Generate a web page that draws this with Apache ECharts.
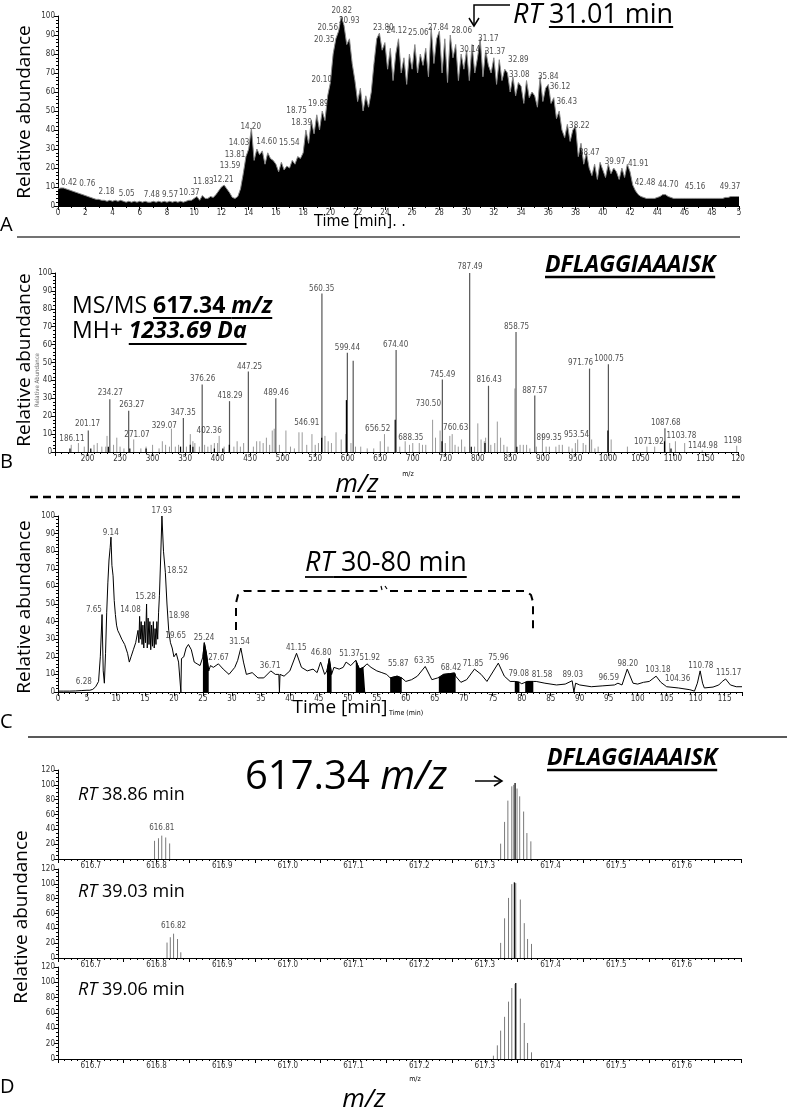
<!DOCTYPE html>
<html><head><meta charset="utf-8">
<script src="https://cdn.jsdelivr.net/npm/echarts@6/dist/echarts.min.js"></script>
<style>html,body{margin:0;padding:0;background:#fff}#c{width:787px;height:1111px}</style>
</head><body><div id="c"></div>
<script>
// ---------------- Panel A : TIC ----------------
const A_STEP = 0.2; // sampling step (min)
const A_VALUES = [
 9,9.5,9.5,9,8.5, 8,7.5,7,6.5,6, 5.5,5,4.5,4,3.5, 3.5,3,3,2.5,3, 2.5,3,2.5,3,2.5,
 2,2.5,2,2.5,2, 2.5,2,2.5,2,2, 2.5,2,2.5,2,2.5, 2,2.5,2,2.5,2, 2.5,2,2.5,3,3,
 4,5,3,5.5,4, 4,5,4.5,6,8, 10,11,9,7,4.5, 4,5,9,17,26, 30,41,24,30,27,
 29,22,28,25,24, 22,18,23,19,21, 20,24,22,26,25, 28,40,33,45,38, 48,40,50,45,58,
 65,80,88,92,100, 95,85,88,75,66, 55,62,50,58,52, 60,75,88,91,82, 86,72,83,66,80,
 88,70,78,64,80, 72,85,70,80,74, 83,68,94,75,88, 92,70,88,65,90, 78,85,66,80,72,
 82,66,85,70,78, 88,68,82,74,70, 78,64,77,66,72, 70,60,68,58,65, 63,54,66,57,60,
 58,52,68,55,62, 64,54,57,46,50, 40,36,43,34,40, 42,26,33,22,28, 20,16,22,14,23,
 19,15,22,17,20, 18,14,20,15,22, 18,11,8,6,5, 4.5,4,4,4,4, 4.5,5,6,6,5,
 4.5,4,4,4,4, 4,4,4,4,4, 4,4,4,4,4, 4,4,4,4,4, 4.5,4.5,5,5,5,
 5
];
const A_LABEL_TEXT = ['0.42','0.76','2.18','5.05','7.48','9.57','10.37','11.83','12.21','13.59','13.81','14.03','14.20','14.60','15.54','18.39','18.75','19.89','20.10','20.35','20.56','20.82','20.93','23.80','24.12','25.06','27.84','28.06','30.14','31.17','31.37','32.89','33.08','35.84','36.12','36.43','38.22','38.47','39.97','41.91','42.48','44.70','45.16','49.37'];
const A_LABEL_X = [0.81,2.15,3.57,5.04,6.88,8.22,9.64,10.67,12.14,12.63,13.0,13.29,14.15,15.32,16.98,17.89,17.52,19.11,19.36,19.55,19.8,20.83,21.39,23.88,24.87,26.46,27.92,29.64,30.25,31.6,32.09,33.8,33.87,36.0,36.86,37.35,38.28,39.0,40.9,42.6,43.1,44.8,46.77,49.34];
const A_LABEL_Y = [12.3,11.6,7.5,6.1,5.8,5.8,6.7,12.8,13.7,21.2,26.8,33.3,41.8,33.9,33,43.5,49.8,53.9,66.3,87.4,93.9,102.8,97.5,93.5,92,91,93.5,92,82,88,81,77,69,68,62.5,55,42,28,23,22,12,11,10,10];

// ---------------- Panel B : MS/MS spectrum ----------------
const B_MAIN_MZ  = [201.17,234.27,263.27,347.35,376.26,418.29,447.25,489.46,560.35,599.44,608.4,674.40,745.49,787.49,816.43,858.75,887.57,971.76,1000.75,1087.68];
const B_MAIN_INT = [12,29.5,23,19,37.7,28.4,45,30,88.5,55.4,51,57,40.5,100,37,67,31.6,46.6,49,13.2];
const B_NOISE_MZ  = [175,186,195,210,215,222,228,230,240,245,250,256,271,282,290,300,310,315,320,326,329,335,340,352,358,362,365,372,380,385,390,395,400,402.36,410,425,430,435,440,455,460,465,470,475,480,484,487,495,505,512,518,525,530,537,545,550,555,565,570,575,582,590,597,605,612,620,630,640,650,656.52,662,680,688.35,695,700,710,715,720,730.5,735,742,750,757,760.63,765,770,775,780,795,800,805,810,812,820,826,830,835,840,845,857,865,870,875,880,890,899.35,905,910,920,925,930,940,945,950,953.54,962,966,975,980,985,1005,1030,1060,1071.92,1095,1103.78,1118,1144.98,1198];
const B_NOISE_INT = [4,5,3,4,5,3,3,9,4,8,3,2,7,2,3,4,2,6,4,3,13,3,4,3,10,6,5,3,4,3,4,5,5,9,3,3,6,3,5,3,6,6,5,8,4,12,13,4,12,3,2,11,11,4,10,4,5,9,6,5,11,7,10,5,3,3,2,2,6,10,3,3,6,4,5,5,4,4,18,8,12,5,9,10,4,3,7,3,3,16,7,6,8,4,5,17,8,4,3,35.5,4,4,4,2,3,10,3,3,3,4,4,3,2,5,7,5,4,7,2,3,7,3,3,3,5,6,5,1,3.5];
const B_BLACK_MZ  = [173,205,232,265,290,343,358,362,395,408,418,560,598,673,745,790,811,860,1000,1087,1097];
const B_BLACK_INT = [2,2,3,2,2,3,4,3,2,2,4,8,29,18,6,3,5,3,12,6,2];
const B_LABEL_TEXT = ['186.11','201.17','234.27','263.27','271.07','329.07','347.35','376.26','402.36','418.29','447.25','489.46','546.91','560.35','599.44','656.52','674.40','688.35','730.50','745.49','760.63','787.49','816.43','858.75','887.57','899.35','953.54','971.76','1000.75','1071.92','1087.68','1103.78','1144.98','1198'];
const B_LABEL_X = [176,200,235,268,276,318,347,377,387,419,449,490,537,560,599.5,646,673.7,697,724,746,766,788,817.5,859.6,887.7,909.7,951.7,958,1001.8,1063,1089,1113,1146,1192];
const B_LABEL_Y = [7.3,15.5,32.8,26.3,9.5,14.7,22,41,12,31.5,47.7,33,16.5,91,58,12.7,60,7.6,26.8,43,13.6,103.5,40,70,34,7.6,9.5,49.5,52,5.8,16.4,9.1,3.5,6];

// ---------------- Panel C : XIC chromatogram [time, abundance] ----------------
const C_TRACE = [[0,0.5],[1,0.5],[2,0.5],[3,0.6],[4,0.8],[5,1],[5.5,1],[6,1.5],[6.5,3],[7,6],[7.3,20],[7.6,44],[7.8,12],[8.0,5],[8.2,22],[8.4,45],[8.6,62],[8.8,75],[9.0,82],[9.14,88],[9.3,72],[9.5,66],[9.7,52],[9.9,44],[10.1,38],[10.3,35],[10.6,33],[11,30],[11.5,27],[12,22],[12.3,17],[12.6,20],[13,24],[13.4,28],[13.8,35],[13.95,28],[14.08,43],[14.2,30],[14.35,40],[14.5,27],[14.65,38],[14.8,25],[14.95,40],[15.1,28],[15.28,50],[15.4,25],[15.55,42],[15.7,27],[15.85,40],[16.0,24],[16.15,38],[16.3,26],[16.45,40],[16.6,25],[16.75,36],[16.9,27],[17.05,40],[17.2,30],[17.35,45],[17.5,55],[17.7,75],[17.93,100],[18.2,80],[18.52,68],[18.8,50],[19.1,35],[19.4,28],[19.7,25],[20,20],[20.4,22],[20.8,17],[21.1,18],[21.2,0],[21.3,19],[21.7,20],[22.1,25],[22.5,27],[23,24],[23.5,17],[24,16],[24.5,15],[25,20],[25.24,28],[25.6,22],[26,12],[26.3,15],[26.8,14],[27.67,16],[28.5,13],[29.5,10],[30.5,14],[31.0,18],[31.54,25],[32,17],[32.5,10],[33.5,11],[34.5,8],[35.5,8],[36.71,12],[37.5,10],[38.1,10],[38.2,0],[38.3,10],[39,9],[40,12],[41.15,22],[42,14],[43,12],[44,13],[44.7,11],[45.3,17],[46,10],[46.4,12],[46.8,19],[47.2,10],[47.6,14],[48.5,13],[49.2,14],[49.7,17],[50.5,15],[51.37,18],[52,13],[52.7,14],[53.0,15],[53.3,16],[54,14],[55,12],[55.87,11],[56.7,10],[57.3,8],[58.5,9],[59.3,8],[60,6],[61,7],[62,9],[63.35,14.5],[64.5,7],[65.5,8],[65.7,8],[66.5,10],[67.5,10.4],[68.42,10.8],[68.6,9],[69.5,5.5],[70.5,7],[71.85,13],[73,10],[74,6],[75.96,16.4],[77,9],[78,6],[78.8,6],[79,6],[79.6,5.5],[80,4.7],[80.6,5.5],[81,6],[82,6],[82.5,6],[84,5],[86,4],[87.5,4.5],[88.7,6.4],[89.0,0],[89.3,5],[90,4],[92,3],[94,3.5],[96,4],[96.6,5],[97.3,4],[98.2,13],[99.2,5],[100,4.5],[101,5.5],[102,6],[103.18,9],[104,5.5],[105,3],[107,2.3],[109,1.3],[109.8,0.5],[110.3,5],[110.78,12],[111.2,5],[111.5,2.3],[113,2.8],[114,4],[114.6,6],[115.17,7.4],[116,4],[117,3],[118,3]];
const C_FILLED = [[25.0,26.0],[46.4,47.2],[51.37,53.0],[57.3,59.3],[65.7,68.6],[78.8,79.6],[80.6,82.0]];
const C_LABEL_TEXT = ['6.28','7.65','9.14','14.08','15.28','17.93','18.52','18.98','19.65','25.24','27.67','31.54','36.71','41.15','46.80','51.37','51.92','55.87','63.35','68.42','71.85','75.96','79.08','81.58','89.03','96.59','98.20','103.18','104.36','110.78','115.17'];
const C_LABEL_X = [4.45,6.2,9.1,12.5,15.1,17.9,20.6,20.9,20.3,25.2,27.7,31.3,36.6,41.1,45.4,50.3,53.8,58.7,63.2,67.8,71.6,76.0,79.5,83.5,88.8,95.0,98.3,103.5,106.9,110.9,115.7];
const C_LABEL_Y = [5.5,46.7,90.5,46.7,54,103,69,43,31.6,31,19.3,28.7,15,25,22,21.7,19.3,15.9,17.8,13.6,16,19.3,10.4,9.8,9.8,7.9,16,12.7,7.4,15,10.8];

// ---------------- Panel D : isotope envelopes ----------------
const D1_MZ  = [616.797,616.803,616.808,616.814,616.820,617.324,617.330,617.335,617.341,617.344,617.346,617.349,617.353,617.359,617.364,617.370];
const D1_INT = [24.5,28,31.5,29,21,20.7,50,78.7,98,100,102.5,95,84.5,64,35,23.8];
const D2_MZ  = [616.816,616.821,616.826,616.832,616.837,617.324,617.330,617.336,617.341,617.345,617.347,617.354,617.360,617.365,617.371];
const D2_INT = [20.8,28,32.8,25.6,7.7,20.4,53.5,81,99.6,102,101,78.8,47,25.7,19];
const D3_MZ  = [617.313,617.319,617.324,617.330,617.336,617.341,617.346,617.347,617.354,617.360,617.365,617.371];
const D3_INT = [4.3,17.8,37,55,74.8,92.6,97.8,99,78.7,47,20.9,8.7];
const D_LABELS = [['616.81',616.808,42,0],['616.82',616.826,43,1]];

// ================= build =================
const NARROW = '"Liberation Sans Narrow","DejaVu Sans Condensed",sans-serif';
const SANS = '"Open Sans"';
const zip = (a,b)=>a.map((v,i)=>[v,b[i]]);

function xAx(g,min,max,interval,split,fmt,showMax){
  return {type:'value',gridIndex:g,min,max,interval,
    axisLine:{show:true,onZero:false,lineStyle:{color:'#000',width:1}},
    axisTick:{show:true,length:4,lineStyle:{color:'#000'}},
    minorTick:{show:true,splitNumber:split,length:2,lineStyle:{color:'#000'}},
    splitLine:{show:false},minorSplitLine:{show:false},
    axisLabel:{fontSize:8,fontFamily:NARROW,color:'#333',margin:3,formatter:fmt,showMaxLabel:showMax,showMinLabel:true}};
}
function yAx(g,max,interval,split){
  return {type:'value',gridIndex:g,min:0,max,interval,
    axisLine:{show:true,lineStyle:{color:'#000',width:1}},
    axisTick:{show:true,length:4,lineStyle:{color:'#000'}},
    minorTick:{show:true,splitNumber:split,length:2,lineStyle:{color:'#000'}},
    splitLine:{show:false},
    axisLabel:{fontSize:8,fontFamily:NARROW,color:'#333',margin:3}};
}
function stick(color,w){
  return function(params,api){
    const x=api.value(0),y=api.value(1);
    const p0=api.coord([x,0]),p1=api.coord([x,y]);
    return {type:'line',shape:{x1:p0[0],y1:p0[1],x2:p1[0],y2:p1[1]},style:{stroke:color,lineWidth:w}};
  };
}
function sticks(ax,data,color,w){
  return {type:'custom',xAxisIndex:ax,yAxisIndex:ax,data,renderItem:stick(color,w),encode:{x:0,y:1},silent:true,z:3};
}
function labels(ax,txt,xs,ys,size){
  return {type:'scatter',xAxisIndex:ax,yAxisIndex:ax,clip:false,symbolSize:1,itemStyle:{color:'rgba(0,0,0,0)'},silent:true,z:5,
    data:txt.map((t,i)=>[xs[i],ys[i],t]),
    label:{show:true,position:'inside',formatter:p=>p.value[2],fontSize:size||8,fontFamily:NARROW,color:'#222'}};
}
const dFmt = v=>{const r=Math.round(v*100); return r%10===0 ? (r/100).toFixed(1) : '';};

const series = [];
// A
series.push({type:'line',xAxisIndex:0,yAxisIndex:0,symbol:'none',data:A_VALUES.map((v,i)=>[i*A_STEP,v]),
  lineStyle:{color:'#8a8a8a',width:1},areaStyle:{color:'#000',opacity:1},z:2,silent:true});
series.push(labels(0,A_LABEL_TEXT,A_LABEL_X,A_LABEL_Y));
// B
series.push(sticks(1,zip(B_NOISE_MZ,B_NOISE_INT),'#9a9a9a',1));
series.push(sticks(1,zip(B_MAIN_MZ,B_MAIN_INT),'#555',1.2));
series.push(sticks(1,zip(B_BLACK_MZ,B_BLACK_INT),'#000',1.2));
series.push(labels(1,B_LABEL_TEXT,B_LABEL_X,B_LABEL_Y));
// C
series.push({type:'line',xAxisIndex:2,yAxisIndex:2,symbol:'none',data:C_TRACE,lineStyle:{color:'#000',width:1},z:3,silent:true});
C_FILLED.forEach(r=>{
  series.push({type:'line',xAxisIndex:2,yAxisIndex:2,symbol:'none',data:C_TRACE.filter(p=>p[0]>=r[0]-1e-9&&p[0]<=r[1]+1e-9),
    lineStyle:{color:'#000',width:1},areaStyle:{color:'#000',opacity:1},z:3,silent:true});
});
series.push(labels(2,C_LABEL_TEXT,C_LABEL_X,C_LABEL_Y));
// D
[[D1_MZ,D1_INT],[D2_MZ,D2_INT],[D3_MZ,D3_INT]].forEach((d,k)=>{
  const mx=Math.max(...d[1]);
  series.push(sticks(3+k,zip(d[0],d[1]).filter(p=>p[1]!==mx),'#7a7a7a',1));
  series.push(sticks(3+k,zip(d[0],d[1]).filter(p=>p[1]===mx),'#111',1.3));
});
D_LABELS.forEach(l=>series.push(labels(3+l[3],[l[0]],[l[1]],[l[2]],8)));

// ---------- annotations ----------
const ctx=document.createElement('canvas').getContext('2d');
function tw(t,f){ctx.font=f;return ctx.measureText(t).width;}
const G=[];
function txt(x,y,t,font,o){o=o||{};
  G.push({type:'text',x,y,rotation:o.rot||0,z:100,silent:true,style:{text:t,x:0,y:0,font,fill:o.fill||'#000',
    textAlign:o.align||'left',textVerticalAlign:'middle',align:o.align||'left',verticalAlign:'middle'}});}
function pl(pts,w,dash,color){G.push({type:'polyline',z:100,silent:true,shape:{points:pts},style:{stroke:color||'#000',lineWidth:w,lineDash:dash||null,fill:null}});}
function runs(x,y,parts){let cx=x;parts.forEach(p=>{const w=tw(p.t,p.f);txt(cx,y,p.t,p.f);
  if(p.u)pl([[cx,y+p.u],[cx+w,y+p.u]],p.uw||1.8);cx+=w;});return cx;}

const YT='19px '+SANS;
// Panel A
txt(25,112,'Relative abundance',YT,{rot:Math.PI/2,align:'center'});
txt(360,222,'Time [min]. .','16px '+NARROW,{align:'center'});
txt(0,225,'A','20px '+SANS);
pl([[17,237],[740,237]],1.5,null,'#444');
pl([[510,5],[474,5],[474,25]],1.5); pl([[469,18],[474,26],[479,18]],1.5);
runs(513,15,[{t:'RT',f:'italic 27px '+SANS},{t:' ',f:'27px '+SANS},{t:'31.01 min',f:'27px '+SANS,u:12}]);
// Panel B
txt(25,360,'Relative abundance',YT,{rot:Math.PI/2,align:'center'});
txt(37,380,'Relative Abundance','6px '+NARROW,{rot:Math.PI/2,align:'center',fill:'#666'});
txt(0,462,'B','20px '+SANS);
txt(357,485,'m/z','italic 26px '+SANS,{align:'center'});
txt(408,474,'m/z','7px '+NARROW,{align:'center'});
pl([[30,497],[740,497]],2.5,[8,5]);
runs(72,306,[{t:'MS/MS ',f:'23px '+SANS},{t:'617.34 ',f:'bold 23px '+SANS,u:12},{t:'m/z',f:'bold italic 23px '+SANS,u:12}]);
runs(72,331,[{t:'MH+ ',f:'23px '+SANS},{t:'1233.69 Da',f:'bold italic 23px '+SANS,u:13}]);
runs(545,265,[{t:'DFLAGGIAAAISK',f:'bold italic 23px '+SANS,u:12,uw:2.5}]);
// Panel C
txt(25,607,'Relative abundance',YT,{rot:Math.PI/2,align:'center'});
txt(340,708,'Time [min]','19px '+SANS,{align:'center'});
txt(406,713,'Time (min)','7px '+NARROW,{align:'center'});
txt(0,722,'C','20px '+SANS);
pl([[28,737],[787,737]],1.5,null,'#222');
runs(305,563,[{t:'RT',f:'italic 27px '+SANS,u:14},{t:' 30-80 min',f:'27px '+SANS,u:14}]);
pl([[236,630],[236,603],[238,595],[244,591],[378,591]],2,[8,6]);
pl([[390,591],[526,591],[531,595],[533,602],[533,630]],2,[8,6]);
pl([[381,586],[382,590]],1.2); pl([[385,586],[387,589]],1.2);
// Panel D
txt(22,917,'Relative abundance',YT,{rot:Math.PI/2,align:'center'});
runs(245,778,[{t:'617.34 ',f:'40px '+SANS},{t:'m/z',f:'italic 40px '+SANS}]);
pl([[475,781],[502,781]],1.5); pl([[494,776],[502,781],[494,786]],1.5);
runs(547,758,[{t:'DFLAGGIAAAISK',f:'bold italic 23px '+SANS,u:12,uw:2.5}]);
runs(78,795,[{t:'RT',f:'italic 18px '+SANS},{t:' 38.86 min',f:'18px '+SANS}]);
runs(78,892,[{t:'RT',f:'italic 18px '+SANS},{t:' 39.03 min',f:'18px '+SANS}]);
runs(78,990,[{t:'RT',f:'italic 18px '+SANS},{t:' 39.06 min',f:'18px '+SANS}]);
txt(0,1087,'D','20px '+SANS);
txt(364,1100,'m/z','italic 26px '+SANS,{align:'center'});
txt(415,1079,'m/z','7px '+NARROW,{align:'center'});

const option={
  animation:false,
  backgroundColor:'#fff',
  grid:[
    {left:58,top:16,width:681,height:190},
    {left:55,top:273,width:683,height:179},
    {left:58,top:516,width:684,height:176},
    {left:58,top:770,width:683,height:89},
    {left:58,top:869,width:683,height:89},
    {left:58,top:967,width:683,height:92}
  ],
  xAxis:[
    xAx(0,0,50,2,2,v=>v===50?'5':String(v),true),
    xAx(1,150,1200,50,5,v=>v===150?'':(v===1200?'120':String(v)),true),
    xAx(2,0,118,5,5,v=>String(v),false),
    xAx(3,616.65,617.69,0.05,5,dFmt,false),
    xAx(4,616.65,617.69,0.05,5,dFmt,false),
    xAx(5,616.65,617.69,0.05,5,dFmt,false)
  ],
  yAxis:[
    yAx(0,100,10,5),yAx(1,100,10,5),yAx(2,100,10,5),
    yAx(3,120,20,4),yAx(4,120,20,4),yAx(5,120,20,4)
  ],
  series,
  graphic:{elements:G}
};
const chart=echarts.init(document.getElementById('c'),null,{width:787,height:1111});
chart.setOption(option);
</script>
</body></html>
